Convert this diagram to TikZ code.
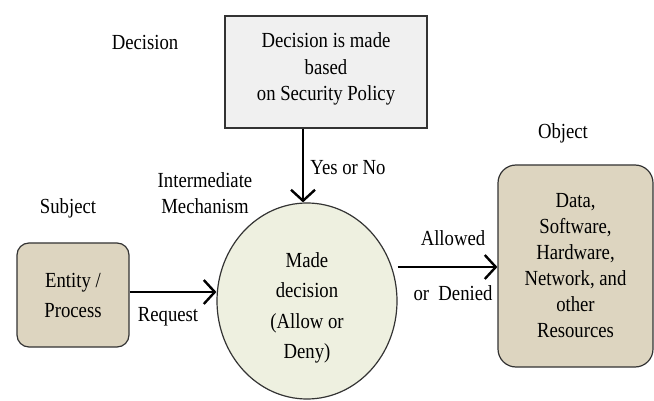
\documentclass[tikz,border=0pt]{standalone}
\usepackage{fontspec}
\setmainfont{Liberation Serif}[FakeStretch=0.87]
\usetikzlibrary{arrows.meta,shapes.geometric}
\begin{document}
\begin{tikzpicture}[x=1pt,y=-1pt,
  every node/.style={font=\fontsize{21.5}{27}\selectfont, align=center, inner sep=0pt},
  box/.style={draw=black!80, line width=1.2pt},
  conn/.style={line width=2.6pt, -{Straight Barb[length=11pt,width=24pt,line width=2.4pt]}}]
\useasboundingbox (0,0) rectangle (654,401);
\node[box, fill=black!6, minimum width=202pt, minimum height=112pt] (pol) at (326,72) {};
\node[font=\fontsize{21.5}{26.5}\selectfont] (polt) at (326,69) {Decision is made\\based\\on Security Policy};
\node[box, ellipse, fill={rgb,255:red,238;green,240;blue,224}, minimum width=180pt, minimum height=196pt] (dec) at (307,301) {};
\node[font=\fontsize{21.5}{30.5}\selectfont] (dect) at (307,308) {Made\\decision\\(Allow or\\Deny)};
\node[box, rounded corners=12pt, fill={rgb,255:red,221;green,213;blue,192}, minimum width=112pt, minimum height=104pt] (ent) at (73,295) {};
\node[font=\fontsize{21.5}{30}\selectfont] (entt) at (73,295) {Entity /\\Process};
\node[box, rounded corners=18pt, fill={rgb,255:red,221;green,213;blue,192}, minimum width=155pt, minimum height=202pt] (obj) at (575.5,266) {};
\node[font=\fontsize{21.5}{26}\selectfont] (objt) at (575.5,266) {Data,\\Software,\\Hardware,\\Network, and\\other\\Resources};
\draw[conn] (ent.east |- 0,292) -- (dec.west |- 0,292);
\draw[conn] (dec.east |- 0,267) -- (obj.west |- 0,267);
\draw[conn] (pol.south -| 303,0) -- (dec.north -| 303,0);
\node (l1) at (145,42) {Decision};
\node (l2) at (563,133) {Object};
\node (l3) at (68,208) {Subject};
\node[font=\fontsize{21.5}{26}\selectfont] (l4) at (205,193) {Intermediate\\Mechanism};
\node (l5) at (348,168) {Yes or No};
\node (l6) at (168,317) {Request};
\node (l7) at (453,238) {Allowed};
\node (l8) at (453,293) {or\ \ Denied};
\end{tikzpicture}
\end{document}
